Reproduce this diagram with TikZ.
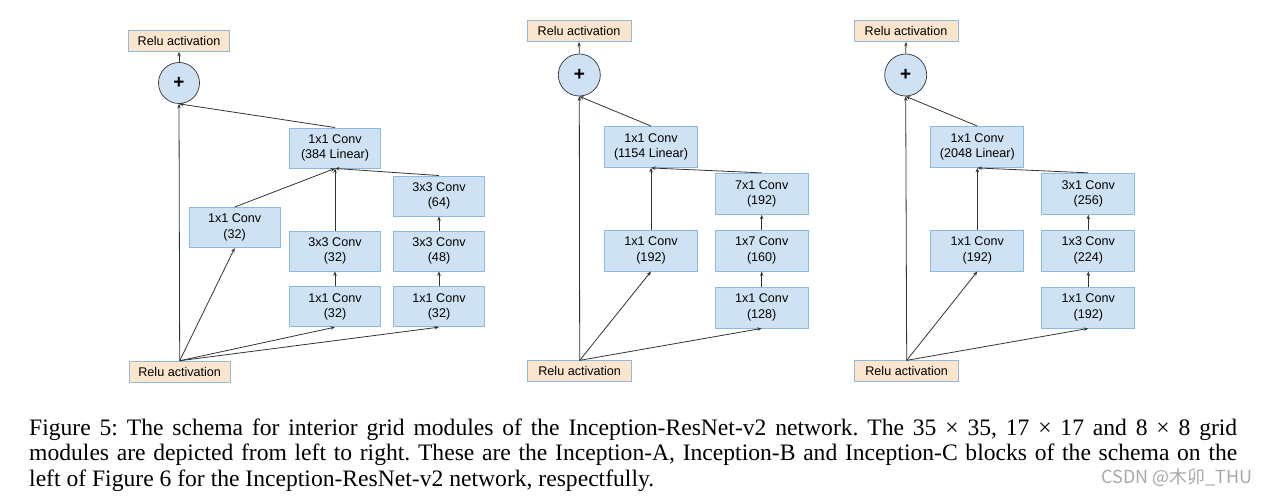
\documentclass[tikz,border=0pt]{standalone}
\usepackage{fontspec}
\setmainfont{Liberation Serif}
\setsansfont{Liberation Sans}
\newfontfamily\cjkwm{Noto Sans CJK SC}
\usetikzlibrary{arrows.meta}
\definecolor{boxfill}{HTML}{CFE2F3}
\definecolor{boxdraw}{HTML}{8DB8E0}
\definecolor{relufill}{HTML}{FCE5CD}
\definecolor{linecol}{HTML}{333333}
\definecolor{wmgray}{HTML}{A8A8A8}
\frenchspacing
\begin{document}
\begin{tikzpicture}[x=1pt,y=-1pt,
  conv/.style={draw=boxdraw,fill=boxfill,line width=0.9pt,minimum width=91pt,minimum height=40pt,inner sep=0pt,align=center,font=\sffamily\fontsize{12.6}{15.3}\selectfont},
  convw/.style={conv,minimum width=93pt,minimum height=41pt},
  relu/.style={draw=boxdraw,fill=relufill,line width=0.9pt,minimum width=101pt,minimum height=21pt,inner sep=0pt,font=\sffamily\fontsize{12.6}{15.3}\selectfont},
  reluw/.style={relu,minimum width=104pt},
  plusnode/.style={circle,draw=linecol,fill=boxfill,line width=0.7pt,minimum size=41pt,inner sep=0pt,font=\sffamily\bfseries\fontsize{19}{19}\selectfont},
  arr/.style={draw=linecol,line width=0.8pt,-{Stealth[length=4.5pt,width=3.5pt]}}
]
\useasboundingbox (0,0) rectangle (1272,497);
% ---------- Panel A ----------
\node[relu] (r1top) at (179,41) {Relu activation};
\node[plusnode] (p1) at (179,83) {+};
\node[conv] (c1lin) at (335,148) {1x1 Conv\\(384 Linear)};
\node[conv] (c1a) at (234.7,227.5) {1x1 Conv\\(32)};
\node[conv] (c1b2) at (335,251) {3x3 Conv\\(32)};
\node[conv] (c1b1) at (335,306.7) {1x1 Conv\\(32)};
\node[conv] (c1c3) at (439,196) {3x3 Conv\\(64)};
\node[conv] (c1c2) at (439,251) {3x3 Conv\\(48)};
\node[conv] (c1c1) at (439,306.7) {1x1 Conv\\(32)};
\node[relu] (r1bot) at (179.7,371.7) {Relu activation};
\draw[arr] (r1bot.north) -- (p1.south);
\draw[arr] (r1bot.north) -- (c1a.south);
\draw[arr] (r1bot.north) -- (c1b1.south);
\draw[arr] (r1bot.north) -- (c1c1.south);
\draw[arr] (c1b1.north) -- (c1b2.south);
\draw[arr] (c1c1.north) -- (c1c2.south);
\draw[arr] (c1c2.north) -- (c1c3.south);
\draw[arr] (c1a.north) -- (c1lin.south);
\draw[arr] (c1b2.north) -- (c1lin.south);
\draw[arr] (c1c3.north) -- (c1lin.south);
\draw[arr] (c1lin.north) -- (p1.south);
\draw[arr] (p1.north) -- (r1top.south);
% ---------- Panel B ----------
\node[reluw] (r2top) at (579,31) {Relu activation};
\node[plusnode,minimum size=42pt] (p2) at (579.3,75) {+};
\node[convw] (c2lin) at (651,147) {1x1 Conv\\(1154 Linear)};
\node[convw] (c2b3) at (761.7,193.8) {7x1 Conv\\(192)};
\node[convw] (c2a) at (651,250.5) {1x1 Conv\\(192)};
\node[convw] (c2b2) at (761.7,250.5) {1x7 Conv\\(160)};
\node[convw] (c2b1) at (761.7,307.5) {1x1 Conv\\(128)};
\node[reluw] (r2bot) at (579.7,371.3) {Relu activation};
\draw[arr] (r2bot.north) -- (p2.south);
\draw[arr] (r2bot.north) -- (c2a.south);
\draw[arr] (r2bot.north) -- (c2b1.south);
\draw[arr] (c2b1.north) -- (c2b2.south);
\draw[arr] (c2b2.north) -- (c2b3.south);
\draw[arr] (c2a.north) -- (c2lin.south);
\draw[arr] (c2b3.north) -- (c2lin.south);
\draw[arr] (c2lin.north) -- (p2.south);
\draw[arr] (p2.north) -- (r2top.south);
% ---------- Panel C ----------
\node[reluw] (r3top) at (906,31) {Relu activation};
\node[plusnode,minimum size=42pt] (p3) at (905.7,75) {+};
\node[convw] (c3lin) at (977.3,147) {1x1 Conv\\(2048 Linear)};
\node[convw] (c3b3) at (1088.3,193.8) {3x1 Conv\\(256)};
\node[convw] (c3a) at (977.3,250.5) {1x1 Conv\\(192)};
\node[convw] (c3b2) at (1088.3,250.5) {1x3 Conv\\(224)};
\node[convw] (c3b1) at (1088.3,307.5) {1x1 Conv\\(192)};
\node[reluw] (r3bot) at (906.7,371.3) {Relu activation};
\draw[arr] (r3bot.north) -- (p3.south);
\draw[arr] (r3bot.north) -- (c3a.south);
\draw[arr] (r3bot.north) -- (c3b1.south);
\draw[arr] (c3b1.north) -- (c3b2.south);
\draw[arr] (c3b2.north) -- (c3b3.south);
\draw[arr] (c3a.north) -- (c3lin.south);
\draw[arr] (c3b3.north) -- (c3lin.south);
\draw[arr] (c3lin.north) -- (p3.south);
\draw[arr] (p3.north) -- (r3top.south);
% ---------- Caption ----------
\begin{scope}[every node/.style={anchor=base west,inner sep=0pt,font=\rmfamily\fontsize{23.6}{26}\selectfont}]
\node (cap1) at (29,435) {\makebox[1208pt][s]{Figure 5: The schema for interior grid modules of the Inception-ResNet-v2 network. The 35 × 35, 17 × 17 and 8 × 8 grid}};
\node (cap2) at (29,460.5) {\makebox[1208pt][s]{modules are depicted from left to right. These are the Inception-A, Inception-B and Inception-C blocks of the schema on the}};
\node (cap3) at (29,486) {left of Figure 6 for the Inception-ResNet-v2 network, respectfully.};
\end{scope}
\node[anchor=west,inner sep=0pt,text=wmgray,font=\cjkwm\fontsize{18}{18}\selectfont] (wm) at (1101.5,478) {CSDN @木卯\_THU};
\end{tikzpicture}
\end{document}
